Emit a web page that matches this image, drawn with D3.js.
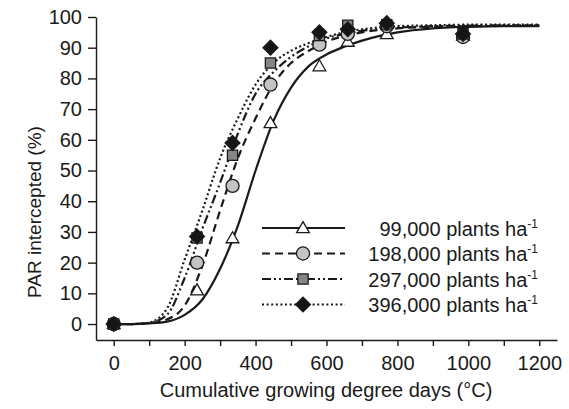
<!DOCTYPE html>
<html>
<head>
<meta charset="utf-8">
<script src="https://cdn.jsdelivr.net/npm/d3@7"></script>
<style>
  body { margin: 0; background: #fff; }
  svg text { font-family: "Liberation Sans", Arial, sans-serif; fill: #1a1a1a; }
</style>
</head>
<body>
<svg id="chart" width="569" height="409"></svg>
<script>
// observed points (GDD, % PAR intercepted)
const gddObs = [0, 235, 335, 442, 580, 660, 770, 985];
const obs99 = [0, 11, 28, 65.5, 84, 92, 94.5, 94];
const obs198 = [0, 20, 45, 78, 91, 94.5, 97, 93.5];
const obs297 = [0, 28, 55, 85, 94, 97.3, 97.5, 94.5];
const obs396 = [0, 28.5, 59, 90, 95, 96, 98, 94.5];

// fitted curves
const gddFit = [0, 50, 100, 150, 200, 250, 300, 350, 400, 450, 500, 550, 600, 650, 700, 800, 900, 1000, 1100, 1200];
const fit99 = [0, 0, 0.2, 0.8, 3, 8, 18, 32, 50, 66, 77, 84, 87.8, 90.3, 92.3, 95, 96.3, 96.8, 97, 97];
const fit198 = [0, 0, 0.3, 1.5, 6, 19, 37, 54, 67, 78, 85, 89, 92, 93.8, 95, 96.3, 96.8, 97, 97.1, 97.2];
const fit297 = [0, 0, 0.4, 3, 15, 31, 46, 62, 75, 82, 87, 90.5, 93, 94.5, 95.5, 96.5, 97, 97.2, 97.3, 97.3];
const fit396 = [0, 0, 0.5, 5, 21, 37, 54, 67, 78, 85, 89, 91.5, 93.5, 95, 96, 97, 97.3, 97.5, 97.5, 97.5];

const seriesNames = ["99,000 plants ha", "198,000 plants ha", "297,000 plants ha", "396,000 plants ha"];
const xTicks = [0, 100, 200, 300, 400, 500, 600, 700, 800, 900, 1000, 1100, 1200];
const yTicks = [0, 10, 20, 30, 40, 50, 60, 70, 80, 90, 100];

const series = [
  { name: seriesNames[0], obs: obs99, fit: fit99, dash: null, shape: "triangle", fill: "#ffffff" },
  { name: seriesNames[1], obs: obs198, fit: fit198, dash: "8,5", shape: "circle", fill: "#c4c4c4" },
  { name: seriesNames[2], obs: obs297, fit: fit297, dash: "9,3,2,3,2,3", shape: "square", fill: "#858585" },
  { name: seriesNames[3], obs: obs396, fit: fit396, dash: "2,2.6", shape: "diamond", fill: "#151515" },
];

const svg = d3.select("#chart");
const ink = "#1a1a1a";

const x = d3.scaleLinear().domain([-50, 1250]).range([96, 557]);
const y = d3.scaleLinear().domain([-5.2, 100]).range([340, 17]);

// axes
const xAxis = svg.append("g")
  .attr("transform", "translate(0,340)")
  .call(d3.axisBottom(x)
    .tickValues(xTicks)
    .tickSize(6)
    .tickSizeOuter(0)
    .tickPadding(10)
    .tickFormat((d) => (d % 200 === 0 ? d : "")));

const yAxis = svg.append("g")
  .attr("transform", "translate(96,0)")
  .call(d3.axisLeft(y)
    .tickValues(yTicks)
    .tickSize(8)
    .tickSizeOuter(0)
    .tickPadding(6));

[xAxis, yAxis].forEach((g) => {
  g.select(".domain").attr("stroke", ink).attr("stroke-width", 1.4);
  g.selectAll(".tick line").attr("stroke", ink).attr("stroke-width", 1.4);
  g.selectAll(".tick text")
    .style("font-family", '"Liberation Sans", Arial, sans-serif')
    .style("font-size", "20px")
    .attr("fill", ink);
});

// axis titles
svg.append("text")
  .attr("x", 326)
  .attr("y", 397)
  .attr("text-anchor", "middle")
  .style("font-size", "20px")
  .text("Cumulative growing degree days (°C)");

svg.append("text")
  .attr("transform", "translate(41,212) rotate(-90)")
  .attr("text-anchor", "middle")
  .style("font-size", "19px")
  .text("PAR intercepted (%)");

// marker shapes
const symbolFor = {
  triangle: d3.symbol().type(d3.symbolTriangle).size(70),
  circle: d3.symbol().type(d3.symbolCircle).size(135),
  square: d3.symbol().type(d3.symbolSquare).size(105),
  diamond: d3.symbol().type(d3.symbolSquare).size(110),
};

function drawMarker(g, s, cx, cy) {
  const rot = s.shape === "diamond" ? " rotate(45)" : "";
  const dy = s.shape === "triangle" ? 1 : 0;
  g.append("path")
    .attr("d", symbolFor[s.shape]())
    .attr("transform", `translate(${cx},${cy + dy})${rot}`)
    .attr("fill", s.fill)
    .attr("stroke", ink)
    .attr("stroke-width", 1.3);
}

// fitted lines
const line = d3.line()
  .x((d) => x(d[0]))
  .y((d) => y(d[1]))
  .curve(d3.curveMonotoneX);

series.forEach((s) => {
  svg.append("path")
    .datum(gddFit.map((g, i) => [g, s.fit[i]]))
    .attr("fill", "none")
    .attr("stroke", ink)
    .attr("stroke-width", 2.2)
    .attr("stroke-dasharray", s.dash)
    .attr("d", line);
});

// observed markers
const markers = svg.append("g");
series.forEach((s) => {
  gddObs.forEach((g, i) => drawMarker(markers, s, x(g), y(s.obs[i])));
});

// legend
const legend = svg.append("g");
series.forEach((s, i) => {
  const ly = 228 + i * 25.5;
  legend.append("line")
    .attr("x1", 262).attr("x2", 345)
    .attr("y1", ly).attr("y2", ly)
    .attr("stroke", ink)
    .attr("stroke-width", 2.2)
    .attr("stroke-dasharray", s.dash);
  drawMarker(legend, s, 303, ly);
  const t = legend.append("text")
    .attr("x", 538)
    .attr("y", ly + 7.5)
    .attr("text-anchor", "end")
    .style("font-size", "20px");
  t.append("tspan").text(s.name);
  t.append("tspan")
    .attr("dy", -8)
    .style("font-size", "12px")
    .text("-1");
});
</script>
</body>
</html>
